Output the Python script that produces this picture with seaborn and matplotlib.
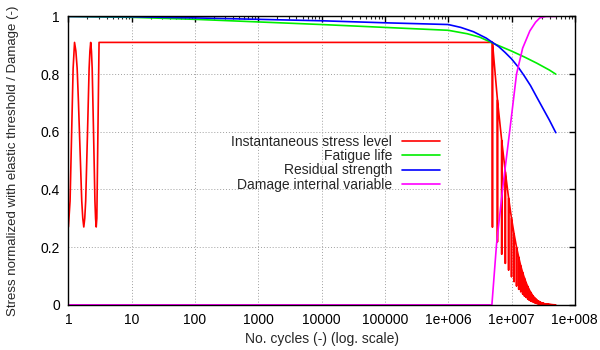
import numpy as np
import pandas as pd
import matplotlib
matplotlib.use("Agg")
import matplotlib.pyplot as plt
import matplotlib.ticker as mticker
import seaborn as sns

# ---------------- data ----------------
# Instantaneous stress level: first few cycles
stress_start_x = [1.0, 1.0625, 1.125, 1.1875, 1.25, 1.3125, 1.375, 1.4375, 1.5, 1.5625,
                  1.625, 1.6875, 1.75, 1.8125, 1.875, 1.9375, 2.0, 2.0625, 2.125, 2.1875,
                  2.25, 2.3125, 2.375, 2.4375, 2.5, 2.5625, 2.625, 2.6875, 2.75, 2.8125,
                  3.05]
stress_start_y = [0.27, 0.36, 0.59, 0.82, 0.91, 0.88, 0.82, 0.71, 0.59, 0.47,
                  0.36, 0.30, 0.27, 0.30, 0.36, 0.47, 0.59, 0.71, 0.82, 0.88,
                  0.91, 0.88, 0.82, 0.71, 0.59, 0.47, 0.36, 0.30, 0.27, 0.30,
                  0.91]
# plateau until the jump and the decaying cycles afterwards
tooth_x = [5e6, 6e6, 7e6, 8e6, 9e6, 10e6, 11e6, 12e6, 13e6, 14e6, 15e6, 16e6, 17e6,
           18e6, 19e6, 20e6, 21e6, 22e6, 23e6, 24e6, 25e6, 26e6, 27e6, 28e6, 29e6,
           30e6, 31e6, 32e6, 33e6, 34e6, 35e6, 36e6, 37e6, 38e6, 39e6, 40e6, 41e6,
           42e6, 43e6, 44e6, 45e6, 46e6, 47e6, 48e6, 49e6, 50e6]
tooth_hi = [0.91, 0.71, 0.57, 0.46, 0.37, 0.30, 0.245, 0.20, 0.165, 0.135, 0.112, 0.093,
            0.077, 0.064, 0.053, 0.044, 0.036, 0.030, 0.025, 0.021, 0.017, 0.014, 0.012,
            0.010, 0.008, 0.007, 0.006, 0.005, 0.004, 0.0035, 0.003, 0.0025, 0.002,
            0.0017, 0.0014, 0.0012, 0.001, 0.0008, 0.0007, 0.0006, 0.0005, 0.0004,
            0.0003, 0.0002, 0.0001, 0.0]
tooth_lo = [0.27, 0.219, 0.176, 0.144, 0.121, 0.098, 0.081, 0.066, 0.054, 0.046, 0.038,
            0.031, 0.026, 0.021, 0.017, 0.014, 0.012, 0.010, 0.008, 0.0065, 0.005, 0.004,
            0.0036, 0.003, 0.0024, 0.002, 0.0018, 0.0015, 0.0012, 0.001, 0.0009, 0.0008,
            0.0006, 0.0005, 0.0004, 0.0004, 0.0003, 0.0002, 0.0002, 0.0002, 0.0002,
            0.0001, 0.0001, 0.0001, 0.0, 0.0]

fatigue_x = [1, 10, 100, 1e3, 1e4, 1e5, 1e6, 2e6, 3.16e6, 5e6, 1e7, 1.58e7, 2.51e7,
             3.98e7, 5e7]
fatigue_y = [1.0, 0.997, 0.99, 0.981, 0.972, 0.962, 0.952, 0.94, 0.928, 0.908, 0.88,
             0.86, 0.838, 0.814, 0.80]

resid_x = [1, 10, 100, 1e3, 1e4, 1e5, 1e6, 1.58e6, 2.51e6, 3.98e6, 5e6, 6.31e6, 7.94e6,
           1e7, 1.26e7, 1.58e7, 2e7, 2.51e7, 3.16e7, 3.98e7, 5.01e7]
resid_y = [1.0, 0.999, 0.995, 0.99, 0.985, 0.978, 0.972, 0.962, 0.947, 0.925, 0.91,
           0.895, 0.875, 0.853, 0.826, 0.795, 0.76, 0.72, 0.68, 0.64, 0.597]

damage_x = [1, 4.9e6, 5.8e6, 7.4e6, 9.4e6, 1.2e7, 1.5e7, 1.95e7, 2.4e7, 2.8e7, 3.5e7, 5e7]
damage_y = [0.0, 0.0, 0.21, 0.42, 0.605, 0.80, 0.89, 0.95, 0.98, 0.995, 1.0, 1.0]

x_tick_vals = [1, 10, 100, 1000, 1e4, 1e5, 1e6, 1e7, 1e8]
x_tick_labels = ["1", "10", "100", "1000", "10000", "100000", "1e+006", "1e+007", "1e+008"]
y_tick_vals = [0, 0.2, 0.4, 0.6, 0.8, 1.0]
y_tick_labels = ["0", "0.2", "0.4", "0.6", "0.8", "1"]

labels = ["Instantaneous stress level", "Fatigue life", "Residual strength",
          "Damage internal variable"]
colors = ["#ff0000", "#00ee00", "#0000ff", "#ff00ff"]

# build the stress series from the read values
stress_x = list(stress_start_x)
stress_y = list(stress_start_y)
for xv, hi, lo in zip(tooth_x, tooth_hi, tooth_lo):
    stress_x += [xv, xv, xv]
    stress_y += [hi, lo, hi]

# ---------------- plot ----------------
sns.set_style("white")
plt.rcParams["font.family"] = ["Liberation Sans", "DejaVu Sans"]
plt.rcParams["font.size"] = 10

fig = plt.figure(figsize=(6, 3.5), dpi=100)
ax = fig.add_axes([0.114, 0.129, 0.844, 0.824])

series = [(stress_x, stress_y), (fatigue_x, fatigue_y), (resid_x, resid_y),
          (damage_x, damage_y)]
for (xs, ys), lab, col in zip(series, labels, colors):
    df = pd.DataFrame({"x": xs, "y": ys})
    sns.lineplot(data=df, x="x", y="y", ax=ax, sort=False, estimator=None,
                 color=col, linewidth=1.2, label=lab)

ax.set_xscale("log")
ax.set_xlim(1, 1e8)
ax.set_ylim(0, 1)
ax.xaxis.set_major_locator(mticker.FixedLocator(x_tick_vals))
ax.xaxis.set_major_formatter(mticker.FixedFormatter(x_tick_labels))
ax.xaxis.set_minor_locator(mticker.LogLocator(base=10, subs=np.arange(2, 10), numticks=20))
ax.xaxis.set_minor_formatter(mticker.NullFormatter())
ax.yaxis.set_major_locator(mticker.FixedLocator(y_tick_vals))
ax.yaxis.set_major_formatter(mticker.FixedFormatter(y_tick_labels))

ax.tick_params(which="major", direction="in", length=4, width=1, top=True, right=True,
               labelsize=10, colors="black")
ax.tick_params(axis="x", which="major", pad=6)
ax.tick_params(axis="y", which="major", pad=6)
ax.tick_params(which="minor", direction="in", length=2, width=0.8, top=True, right=True)
ax.tick_params(axis="y", which="minor", left=False, right=False)

ax.grid(True, which="major", linestyle=(0, (1, 2)), color="#a0a0a0", linewidth=0.7)
for sp in ax.spines.values():
    sp.set_color("black")
    sp.set_linewidth(1.0)
    sp.set_zorder(3)

ax.set_xlabel("No. cycles (-) (log. scale)", fontsize=10)
ax.set_ylabel("Stress normalized with elastic threshold / Damage (-)", fontsize=9.5)
ax.yaxis.set_label_coords(-0.098, 0.5)
ax.xaxis.set_label_coords(0.5, -0.095)

leg = ax.legend(loc="center right", bbox_to_anchor=(0.753, 0.491), frameon=False,
                markerfirst=False, handlelength=2.7, handletextpad=0.75,
                labelspacing=0.03, borderpad=0.2, fontsize=10)

fig.savefig("out.png", dpi=100)
